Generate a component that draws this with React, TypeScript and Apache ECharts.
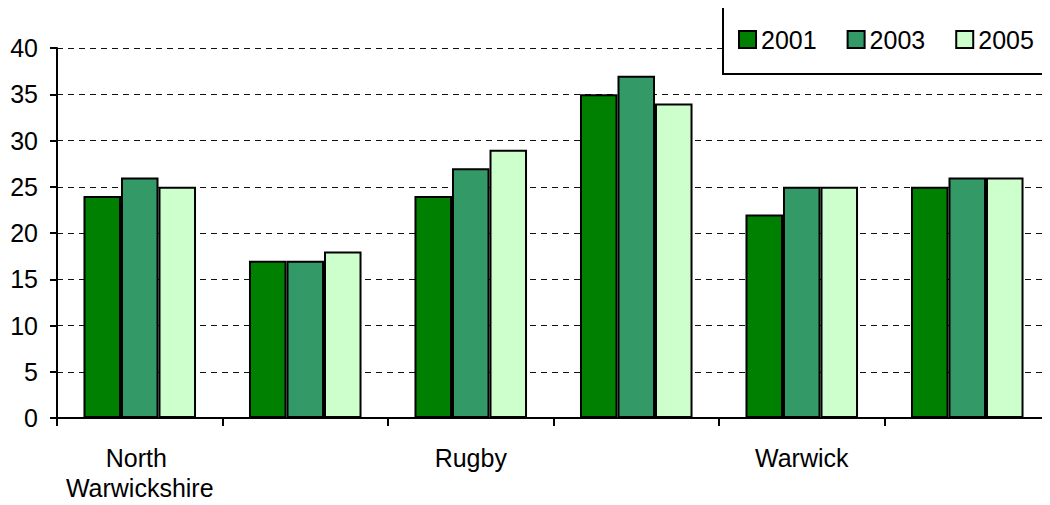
import React, { useEffect, useRef } from "react";
import * as echarts from "echarts";

const categories = [
  "North Warwickshire",
  "Nuneaton and Bedworth",
  "Rugby",
  "Stratford-on-Avon",
  "Warwick",
  "Warwickshire",
];
const seriesNames = ["2001", "2003", "2005"];
const values2001 = [24, 17, 24, 35, 22, 25];
const values2003 = [26, 17, 27, 37, 25, 26];
const values2005 = [25, 18, 29, 34, 25, 26];
const colors = ["#008000", "#339966", "#CCFFCC"];
const yTicks = { min: 0, max: 40, interval: 5 };

export default function App() {
  const ref = useRef<HTMLDivElement>(null);
  useEffect(() => {
    if (!ref.current) return;
    const chart = echarts.init(ref.current, null, { renderer: "svg" });
    const font = "'Liberation Sans', Arial, sans-serif";
    const data = [values2001, values2003, values2005];
    chart.setOption({
      animation: false,
      textStyle: { fontFamily: font },
      legend: {
        data: seriesNames,
        left: 723,
        top: 5,
        width: 400,
        orient: "horizontal",
        itemWidth: 17,
        itemHeight: 17,
        itemGap: 30,
        padding: [22, 40, 22, 15],
        borderColor: "#000",
        borderWidth: 2,
        backgroundColor: "#fff",
        icon: "rect",
        textStyle: { fontSize: 25, color: "#000", fontFamily: font },
      },
      grid: { left: 57, top: 48, width: 996, bottom: 87, containLabel: false },
      xAxis: {
        type: "category",
        data: categories,
        axisLine: { lineStyle: { color: "#000", width: 2 } },
        axisTick: { show: true, length: 8, interval: 0, alignWithLabel: false, lineStyle: { color: "#000", width: 2 } },
        axisLabel: {
          interval: 1,
          fontSize: 25,
          color: "#000",
          fontFamily: font,
          margin: 25,
          lineHeight: 30,
          width: 160,
          overflow: "break",
        },
      },
      yAxis: {
        type: "value",
        min: yTicks.min,
        max: yTicks.max,
        interval: yTicks.interval,
        axisLine: { show: true, lineStyle: { color: "#000", width: 2 } },
        axisTick: { show: true, length: 7, lineStyle: { color: "#000", width: 2 } },
        axisLabel: { fontSize: 25, color: "#000", fontFamily: font, margin: 19 },
        splitLine: { show: true, lineStyle: { color: "#111", width: 1, type: [6, 5] } },
      },
      series: seriesNames.map((name, i) => ({
        name,
        type: "bar",
        data: data[i],
        barGap: "0%",
        barCategoryGap: "32%",
        itemStyle: { color: colors[i], borderColor: "#000", borderWidth: 2 },
      })),
    });
    return () => chart.dispose();
  }, []);
  return <div ref={ref} style={{ width: 1050, height: 505, margin: -8 }} />;
}
